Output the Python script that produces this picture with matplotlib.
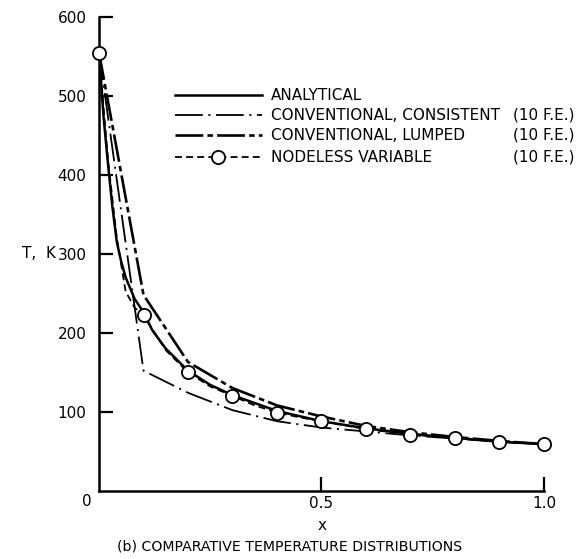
import matplotlib
matplotlib.use('Agg')
import matplotlib.pyplot as plt
from matplotlib.lines import Line2D

plt.rcParams['font.family'] = ['DejaVu Sans']
plt.rcParams['lines.scale_dashes'] = False

# element nodes (10 F.E.)
x_nodes = [0.0, 0.1, 0.2, 0.3, 0.4, 0.5, 0.6, 0.7, 0.8, 0.9, 1.0]
t_nodeless = [555, 222, 150, 120, 99, 88, 78, 71, 67, 62, 59]
t_consistent = [555, 152, 124, 102, 88, 80, 75, 70, 66, 62, 59]
t_lumped = [555, 248, 163, 130, 108, 94, 82, 74, 68, 63, 59]

# analytical curve
x_analytical = [0.0, 0.01, 0.02, 0.03, 0.04, 0.05, 0.06, 0.08, 0.1, 0.12, 0.15,
                0.2, 0.25, 0.3, 0.4, 0.5, 0.6, 0.7, 0.8, 0.9, 1.0]
t_analytical = [555, 475, 415, 360, 315, 290, 270, 243, 226, 203, 180,
                152, 134, 121, 101, 88, 79, 72, 67, 62, 59]

# nodeless variable curve incl. element interiors
x_nodeless_curve = [0.0, 0.02, 0.04, 0.06, 0.08, 0.1, 0.15, 0.2, 0.25, 0.3, 0.35,
                    0.4, 0.45, 0.5, 0.6, 0.7, 0.8, 0.9, 1.0]
t_nodeless_curve = [555, 420, 320, 252, 232, 222, 178, 150, 132, 120, 108,
                    99, 93, 88, 78, 71, 67, 62, 59]

legend_labels = ['ANALYTICAL', 'CONVENTIONAL, CONSISTENT', 'CONVENTIONAL, LUMPED',
                 'NODELESS VARIABLE']
legend_notes = ['', '(10 F.E.)', '(10 F.E.)', '(10 F.E.)']

styles = [
    dict(color='black', lw=1.8, linestyle='-'),
    dict(color='black', lw=1.3, dashes=(20, 4, 1.5, 4)),
    dict(color='black', lw=1.9, dashes=(20, 3, 4, 3)),
    dict(color='black', lw=1.3, dashes=(5, 3)),
]
marker_style = dict(marker='o', markersize=9.5, markerfacecolor='white',
                    markeredgecolor='black', markeredgewidth=1.3)

fig = plt.figure(figsize=(5.81, 5.59), dpi=100)
ax = fig.add_axes([0.1704, 0.1222, 0.7659, 0.8474])

ax.plot(x_analytical, t_analytical, **styles[0])
ax.plot(x_nodes, t_consistent, **styles[1])
ax.plot(x_nodes, t_lumped, **styles[2])
ax.plot(x_nodeless_curve, t_nodeless_curve, **styles[3])
ax.plot(x_nodes, t_nodeless, linestyle='none', clip_on=False, zorder=5, **marker_style)

ax.set_xlim(0, 1.0)
ax.set_ylim(0, 600)
for s in ['top', 'right']:
    ax.spines[s].set_visible(False)
for s in ['left', 'bottom']:
    ax.spines[s].set_linewidth(1.8)

ax.set_xticks([0.5, 1.0])
ax.set_xticklabels(['0.5', '1.0'])
ax.set_yticks([100, 200, 300, 400, 500, 600])
ax.set_yticklabels(['100', '200', '300', '400', '500', '600'])
ax.tick_params(direction='in', length=10, width=1.6, labelsize=11, pad=4)
ax.tick_params(axis='y', pad=9)
ax.text(-0.027, -14, '0', fontsize=11, ha='center', va='center', clip_on=False)

fig.text(322 / 581, 1 - 526 / 559, 'x', fontsize=11, ha='center', va='center')
fig.text(22 / 581, 1 - 254 / 559, 'T,  K', fontsize=11, ha='left', va='center')
fig.text(290 / 581, 1 - 547 / 559, '(b) COMPARATIVE TEMPERATURE DISTRIBUTIONS',
         fontsize=10.2, ha='center', va='center')

# legend drawn by hand
rows_y = [95, 115, 135, 157]
for i, label in enumerate(legend_labels):
    yf = 1 - rows_y[i] / 559
    kw = dict(styles[i])
    if i == 3:
        kw.update(marker_style)
        line = Line2D([175 / 581, 218 / 581, 262 / 581], [yf, yf, yf],
                      markevery=[1], transform=fig.transFigure, **kw)
    else:
        line = Line2D([175 / 581, 262 / 581], [yf, yf], transform=fig.transFigure, **kw)
    fig.add_artist(line)
    fig.text(271 / 581, yf, label, fontsize=11, ha='left', va='center')
    if legend_notes[i]:
        fig.text(513 / 581, yf, legend_notes[i], fontsize=11, ha='left', va='center')

fig.savefig('out.png', dpi=100)
